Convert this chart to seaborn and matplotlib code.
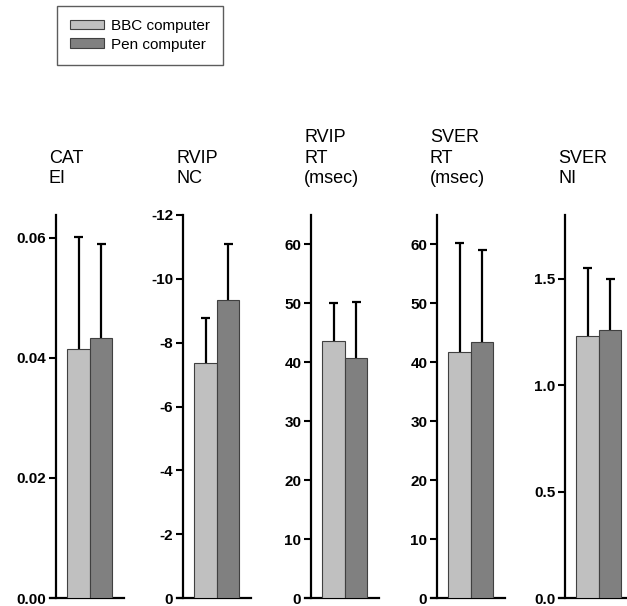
import numpy as np
import pandas as pd
import matplotlib
matplotlib.use("Agg")
import matplotlib.pyplot as plt
import seaborn as sns
from matplotlib.patches import Patch

# data
titles = ["CAT\nEI", "RVIP\nNC", "RVIP\nRT\n(msec)", "SVER\nRT\n(msec)", "SVER\nNI"]
groups = ["BBC computer", "Pen computer"]
bbc_mean = [0.0415, -7.36, 43.7, 41.7, 1.23]
bbc_top = [0.0602, -8.77, 50.0, 60.2, 1.55]
pen_mean = [0.0433, -9.34, 40.7, 43.4, 1.26]
pen_top = [0.0589, -11.1, 50.2, 59.0, 1.50]
yticks = [
    [0.00, 0.02, 0.04, 0.06],
    [0, -2, -4, -6, -8, -10, -12],
    [0, 10, 20, 30, 40, 50, 60],
    [0, 10, 20, 30, 40, 50, 60],
    [0.0, 0.5, 1.0, 1.5],
]
ytick_labels = [
    ["0.00", "0.02", "0.04", "0.06"],
    ["0", "-2", "-4", "-6", "-8", "-10", "-12"],
    ["0", "10", "20", "30", "40", "50", "60"],
    ["0", "10", "20", "30", "40", "50", "60"],
    ["0.0", "0.5", "1.0", "1.5"],
]
ylims = [(0, 0.0638), (0, -12), (0, 65), (0, 65), (0, 1.80)]

colors = {"BBC computer": "#c0c0c0", "Pen computer": "#808080"}

sns.set_style("ticks")
plt.rcParams["font.family"] = ["Liberation Sans", "DejaVu Sans"]
plt.rcParams["text.color"] = "black"

W, H = 627, 606
fig = plt.figure(figsize=(W / 100, H / 100), dpi=100)

axis_x = [56, 183, 311, 437, 565]
ax_w = 67.5
ax_top, ax_base = 215, 598
cap_half = 0.08

for i in range(5):
    ax = fig.add_axes([axis_x[i] / W, 1 - ax_base / H, ax_w / W, (ax_base - ax_top) / H])
    df = pd.DataFrame({
        "panel": [titles[i]] * 2,
        "group": groups,
        "value": [bbc_mean[i], pen_mean[i]],
    })
    sns.barplot(data=df, x="panel", y="value", hue="group", palette=colors,
                hue_order=groups, width=0.8, edgecolor="#404040", linewidth=0.8,
                legend=False, ax=ax, zorder=3)
    tops = [bbc_top[i], pen_top[i]]
    means = [bbc_mean[i], pen_mean[i]]
    for patch, m, t in zip(list(ax.patches), means, tops):
        cx = patch.get_x() + patch.get_width() / 2
        # upper error only: stem from bar top and a cap
        ax.vlines(cx, m, t, color="black", linewidth=1.6, zorder=2)
        ax.hlines(t, cx - cap_half, cx + cap_half, color="black", linewidth=1.6, zorder=2)
    ax.set_xlim(-0.6, 0.6)
    ax.set_ylim(*ylims[i])
    ax.set_yticks(yticks[i])
    ax.set_yticklabels(ytick_labels[i], fontweight="bold", fontsize=11, color="black")
    ax.set_xticks([])
    ax.set_xlabel("")
    ax.set_ylabel("")
    ax.tick_params(axis="y", direction="out", length=5, width=1.5, pad=2, colors="black")
    for s in ["top", "right"]:
        ax.spines[s].set_visible(False)
    for s in ["left", "bottom"]:
        ax.spines[s].set_linewidth(1.6)
        ax.spines[s].set_color("black")
    ax.spines["bottom"].set_bounds(-0.6 - 6 / 56.25, 0.6)
    ax.spines["bottom"].set_clip_on(False)
    ax.set_facecolor("none")
    fig.text((axis_x[i] - 7) / W, 1 - 187 / H, titles[i], ha="left", va="bottom",
             fontsize=13, linespacing=1.25, color="black")

handles = [Patch(facecolor=colors[g], edgecolor="#404040", linewidth=0.8, label=g) for g in groups]
leg = fig.legend(handles=handles, loc="upper left", bbox_to_anchor=(57 / W, 1 - 6 / H),
                 frameon=True, fancybox=False, edgecolor="#333333", fontsize=11,
                 handlelength=2.2, handleheight=0.6, borderpad=0.85, labelspacing=0.3,
                 handletextpad=0.5, borderaxespad=0)
leg.get_frame().set_linewidth(1.0)
for t in leg.get_texts():
    t.set_color("black")

fig.savefig("out.png", dpi=100)
